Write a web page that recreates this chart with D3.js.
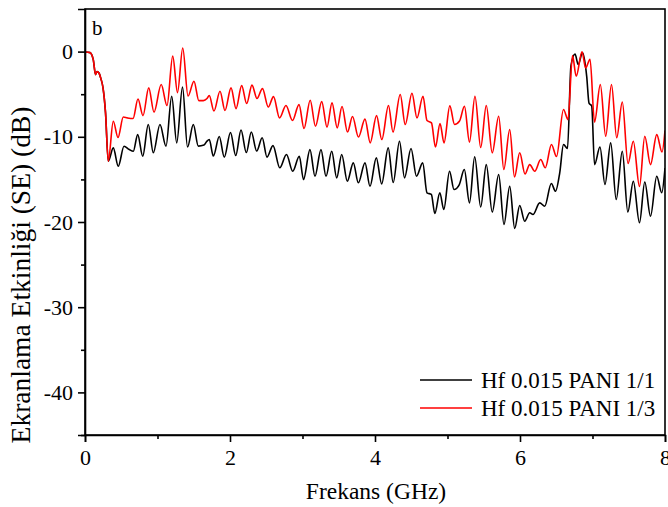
<!DOCTYPE html>
<html>
<head>
<meta charset="utf-8">
<script src="https://cdn.jsdelivr.net/npm/d3@7"></script>
<style>
  html, body { margin: 0; padding: 0; background: #fff; }
  svg { display: block; }
  text { font-family: "Liberation Serif", "Times New Roman", serif; fill: #000; }
</style>
</head>
<body>
<svg id="chart" width="668" height="507"></svg>
<script>
// Shielding effectiveness vs. frequency
const freq1 = [0.00,0.069,0.114,0.145,0.166,0.193,0.217,0.248,0.283,0.321,0.390,0.459,0.538,0.611,0.666,0.727,0.796,0.873,0.942,1.034,1.117,1.196,1.265,1.345,1.414,1.494,1.563,1.641,1.683,1.714,1.770,1.852,1.921,2.007,2.079,2.152,2.225,2.294,2.368,2.444,2.510,2.593,2.686,2.779,2.865,2.956,3.014,3.103,3.172,3.255,3.324,3.403,3.472,3.541,3.618,3.701,3.770,3.862,3.931,4.018,4.092,4.182,4.251,4.338,4.407,4.497,4.572,4.658,4.717,4.777,4.825,4.894,4.949,5.028,5.090,5.163,5.232,5.303,5.375,5.458,5.535,5.617,5.706,5.779,5.858,5.927,5.996,6.065,6.134,6.179,6.272,6.341,6.432,6.490,6.548,6.600,6.655,6.703,6.759,6.803,6.862,6.920,6.952,6.989,7.028,7.103,7.172,7.251,7.327,7.411,7.487,7.563,7.648,7.721,7.800,7.886,7.955,8.00];
const se1 = [-0.05,-0.12,-0.94,-2.70,-2.35,-2.52,-3.11,-4.22,-7.16,-12.87,-11.30,-13.45,-11.11,-11.50,-11.70,-9.74,-12.28,-8.56,-11.88,-8.56,-11.11,-5.24,-10.71,-4.16,-11.20,-8.56,-11.09,-10.97,-10.50,-10.32,-12.26,-9.97,-12.38,-9.50,-12.20,-9.21,-11.85,-9.44,-11.67,-10.12,-12.38,-11.03,-13.64,-12.08,-14.04,-12.28,-15.01,-11.50,-14.63,-11.50,-14.63,-11.70,-14.82,-12.08,-15.21,-13.06,-15.40,-13.06,-15.80,-12.47,-15.54,-11.30,-15.37,-10.52,-14.82,-11.38,-14.63,-13.06,-16.57,-16.77,-19.00,-16.57,-18.53,-14.04,-16.19,-15.60,-13.84,-17.75,-12.35,-18.24,-13.26,-18.83,-14.43,-20.29,-15.80,-20.76,-18.06,-19.91,-18.92,-19.12,-17.75,-18.15,-15.48,-16.39,-14.23,-10.91,-11.38,-1.64,-0.29,-1.52,-0.12,-2.90,-6.04,-6.39,-13.26,-11.20,-15.60,-10.71,-17.36,-11.70,-18.83,-15.21,-20.09,-15.31,-19.32,-14.63,-16.57,-13.67];

const freq3 = [0.00,0.069,0.114,0.145,0.166,0.193,0.217,0.248,0.283,0.321,0.390,0.455,0.528,0.583,0.662,0.731,0.800,0.879,0.952,1.051,1.131,1.210,1.276,1.348,1.421,1.503,1.570,1.632,1.683,1.714,1.779,1.862,1.931,2.014,2.083,2.161,2.230,2.303,2.372,2.448,2.528,2.600,2.683,2.772,2.862,2.952,3.021,3.106,3.179,3.265,3.338,3.407,3.479,3.545,3.621,3.690,3.772,3.862,3.934,4.021,4.094,4.186,4.248,4.348,4.417,4.510,4.579,4.662,4.717,4.779,4.834,4.897,4.952,5.032,5.097,5.166,5.234,5.303,5.379,5.458,5.535,5.617,5.706,5.777,5.858,5.924,5.996,6.069,6.134,6.203,6.286,6.349,6.434,6.503,6.600,6.662,6.724,6.775,6.855,6.906,6.966,7.028,7.108,7.182,7.262,7.334,7.411,7.490,7.563,7.648,7.721,7.800,7.886,7.959,8.00];
const se3 = [-0.05,-0.12,-0.94,-2.70,-2.35,-2.52,-3.11,-4.22,-7.16,-12.87,-8.18,-10.09,-7.68,-7.78,-7.86,-5.57,-7.51,-4.26,-7.10,-3.87,-6.33,-0.53,-4.81,0.43,-5.22,-3.48,-5.75,-5.75,-5.51,-5.16,-6.98,-4.66,-6.92,-4.26,-6.69,-3.99,-6.10,-3.93,-5.51,-4.34,-6.51,-5.28,-7.78,-6.33,-8.09,-6.22,-9.03,-5.71,-8.76,-5.87,-8.86,-6.02,-8.95,-6.45,-9.44,-7.62,-10.03,-7.92,-10.71,-7.51,-10.32,-6.33,-9.44,-5.04,-8.56,-4.89,-7.78,-5.24,-8.09,-8.36,-11.20,-8.45,-10.71,-6.37,-8.56,-8.15,-6.42,-10.62,-5.24,-11.26,-6.33,-11.88,-7.59,-13.84,-9.15,-14.72,-11.88,-14.37,-13.26,-14.04,-12.67,-13.64,-10.91,-12.32,-6.80,-7.98,-0.47,-2.90,-0.02,-1.91,-0.90,-8.27,-3.87,-9.94,-3.87,-10.12,-5.92,-13.14,-10.52,-15.84,-9.94,-13.26,-9.74,-11.79,-9.27];

const seriesNames = ["Hf 0.015 PANI 1/1", "Hf 0.015 PANI 1/3"];
const seriesColors = ["#000000", "#ff0000"];
const xTicks = [0, 2, 4, 6, 8];
const yTicks = [0, -10, -20, -30, -40];
const xTitle = "Frekans (GHz)";
const yTitle = "Ekranlama Etkinliği (SE) (dB)";
const panelLabel = "b";

const W = 668, H = 507;
const m = { left: 85, right: 3, top: 9, bottom: 72 };
const svg = d3.select("#chart");

const x = d3.scaleLinear().domain([0, 8]).range([m.left, W - m.right]);
const y = d3.scaleLinear().domain([-45, 5]).range([H - m.bottom, m.top]);

svg.append("defs").append("clipPath").attr("id", "plotclip")
  .append("rect").attr("x", x(0)).attr("y", y(5))
  .attr("width", x(8) - x(0)).attr("height", y(-45) - y(5));

const line = d3.line().x(d => x(d[0])).y(d => y(d[1])).curve(d3.curveMonotoneX);

const data = [d3.zip(freq1, se1), d3.zip(freq3, se3)];
const gLines = svg.append("g").attr("clip-path", "url(#plotclip)");
data.forEach((pts, i) => {
  gLines.append("path").datum(pts)
    .attr("d", line)
    .attr("fill", "none")
    .attr("stroke", seriesColors[i])
    .attr("stroke-width", 1.6)
    .attr("stroke-linejoin", "round");
});

// frame
svg.append("rect")
  .attr("x", x(0)).attr("y", y(5))
  .attr("width", x(8) - x(0)).attr("height", y(-45) - y(5))
  .attr("fill", "none").attr("stroke", "#000").attr("stroke-width", 1.6);

// axes
const tickFont = 22;
const plain = d => String(d);
svg.append("g").attr("transform", `translate(0,${y(-45)})`)
  .call(d3.axisBottom(x).tickValues(xTicks).tickFormat(plain).tickSize(7).tickPadding(7));
svg.append("g").attr("transform", `translate(0,${y(-45)})`)
  .call(d3.axisBottom(x).tickValues([1, 3, 5, 7]).tickFormat("").tickSize(4))
  .call(g => g.select(".domain").remove());
svg.append("g").attr("transform", `translate(${x(0)},0)`)
  .call(d3.axisLeft(y).tickValues(yTicks).tickFormat(plain).tickSize(7).tickPadding(5));
svg.append("g").attr("transform", `translate(${x(0)},0)`)
  .call(d3.axisLeft(y).tickValues([-5, -15, -25, -35, -45]).tickFormat("").tickSize(4))
  .call(g => g.select(".domain").remove());

svg.selectAll(".tick line").attr("stroke", "#000").attr("stroke-width", 1.6);
svg.selectAll(".domain").attr("stroke", "#000").attr("stroke-width", 1.6);
svg.selectAll(".tick text")
  .style("font-family", "'Liberation Serif', 'Times New Roman', serif")
  .style("font-size", tickFont + "px").attr("fill", "#000");

// titles
svg.append("text").attr("x", (x(0) + x(8)) / 2 + 1).attr("y", 499)
  .attr("text-anchor", "middle").style("font-size", "23.5px").text(xTitle);
svg.append("text")
  .attr("transform", `translate(30,275) rotate(-90)`)
  .attr("text-anchor", "middle").style("font-size", "27.5px").text(yTitle);
svg.append("text").attr("x", x(0) + 7).attr("y", 35)
  .style("font-size", "21px").text(panelLabel);

// legend
const leg = svg.append("g");
seriesNames.forEach((name, i) => {
  const ly = 380 + i * 28;
  leg.append("line").attr("x1", 420).attr("x2", 472).attr("y1", ly).attr("y2", ly)
    .attr("stroke", seriesColors[i]).attr("stroke-width", 1.6);
  leg.append("text").attr("x", 481).attr("y", ly + 8)
    .style("font-size", "23px").text(name);
});
</script>
</body>
</html>
